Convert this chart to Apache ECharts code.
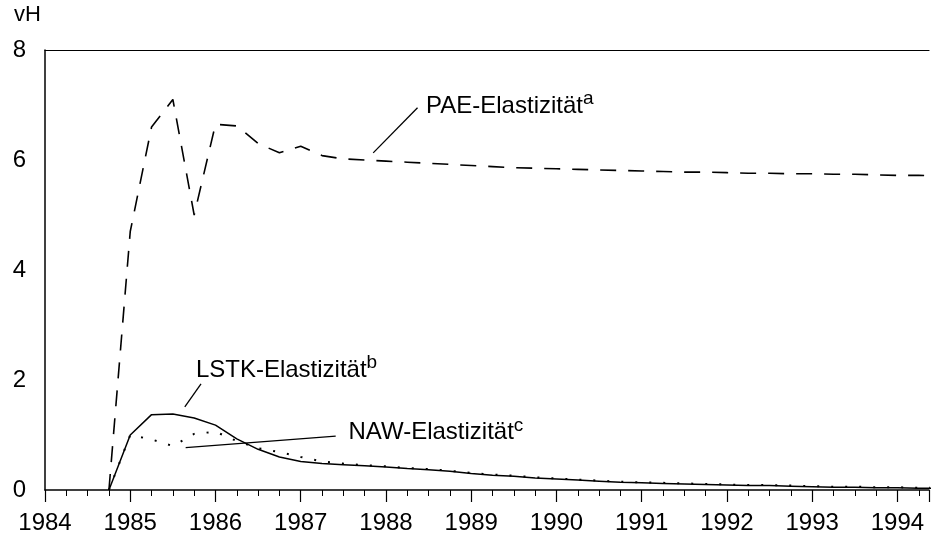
<!DOCTYPE html>
<html>
<head>
<meta charset="utf-8">
<title>Elastizitäten</title>
<script src="https://cdn.jsdelivr.net/npm/echarts@6/dist/echarts.min.js"></script>
<style>
  html,body{margin:0;padding:0;background:#fff;}
  #chart{width:932px;height:535px;}
</style>
</head>
<body>
<div id="chart"></div>
<script>
// quartale (x-werte)
const quarters=[1984.75,1985,1985.25,1985.5,1985.75,1986,1986.25,1986.5,1986.75,1987,1987.25,1987.5,1987.75,
  1988,1988.25,1988.5,1988.75,1989,1989.25,1989.5,1989.75,1990,1990.25,1990.5,1990.75,1991,1991.25,1991.5,1991.75,
  1992,1992.25,1992.5,1992.75,1993,1993.25,1993.5,1993.75,1994,1994.25,1994.5]
// PAE-Elastizität (gestrichelt)
const paeValues=[0,4.7,6.6,7.1,5.0,6.65,6.62,6.3,6.13,6.25,6.08,6.02,6.0,
  5.98,5.96,5.94,5.92,5.9,5.88,5.86,5.85,5.84,5.83,5.82,5.81,5.8,5.79,5.78,5.78,
  5.77,5.76,5.76,5.75,5.75,5.74,5.74,5.73,5.72,5.72,5.71]
// LSTK-Elastizität (durchgezogen)
const lstkValues=[0,1.0,1.37,1.38,1.31,1.18,0.93,0.74,0.6,0.52,0.48,0.46,0.44,
  0.42,0.39,0.37,0.34,0.3,0.27,0.25,0.22,0.2,0.18,0.16,0.14,0.13,0.12,0.11,0.1,
  0.09,0.08,0.08,0.07,0.06,0.05,0.05,0.04,0.04,0.03,0.03]
// NAW-Elastizität (gepunktet)
const nawValues=[0,1.0,0.92,0.8,1.02,1.06,0.89,0.76,0.69,0.6,0.52,0.48,0.45,
  0.43,0.4,0.38,0.35,0.31,0.28,0.26,0.23,0.21,0.19,0.17,0.15,0.14,0.13,0.12,0.11,
  0.1,0.09,0.09,0.08,0.07,0.06,0.06,0.05,0.05,0.04,0.04]
const yearLabels=['1984','1985','1986','1987','1988','1989','1990','1991','1992','1993','1994']
const yLabels=['0','2','4','6','8']

const FONT='"Liberation Sans", Arial, sans-serif'
const pairs=(vals)=>quarters.map((q,i)=>[q,vals[i]])

let chartInstance=echarts.init(document.getElementById('chart'))

const leader=(a,b)=>({
  silent:true,
  symbol:'none',
  label:{show:false},
  lineStyle:{color:'#000',type:'solid',width:1.3},
  data:[[{coord:a},{coord:b}]]
})

let option={
  animation:false,
  backgroundColor:'#fff',
  grid:{left:45,right:0,top:50,bottom:45},
  xAxis:[
    {
      type:'value',
      min:1984,
      max:1994.37,
      interval:1,
      axisLine:{lineStyle:{color:'#000',width:1.5}},
      axisTick:{length:12,lineStyle:{color:'#000',width:1.2}},
      minorTick:{show:true,splitNumber:4,length:6,lineStyle:{color:'#000',width:1}},
      splitLine:{show:false},
      axisLabel:{
        margin:21,
        color:'#000',
        fontSize:24,
        fontFamily:FONT,
        formatter:(v)=>{
          let s=String(Math.round(v))
          return Math.abs(v-Math.round(v))<1e-6&&yearLabels.includes(s)?s:''
        }
      }
    },
    {
      type:'value',
      position:'top',
      min:1984,
      max:1994.37,
      axisLine:{show:true,lineStyle:{color:'#000',width:1.2}},
      axisTick:{show:false},
      axisLabel:{show:false},
      splitLine:{show:false}
    }
  ],
  yAxis:{
    type:'value',
    min:0,
    max:8,
    interval:2,
    axisLine:{show:true,lineStyle:{color:'#000',width:1.5}},
    axisTick:{show:false},
    splitLine:{show:false},
    axisLabel:{
      margin:19,
      color:'#000',
      fontSize:24,
      fontFamily:FONT,
      formatter:(v)=>yLabels.includes(String(v))?String(v):''
    }
  },
  series:[
    {
      name:'PAE-Elastizität',
      type:'line',
      data:pairs(paeValues),
      showSymbol:false,
      lineStyle:{color:'#000',width:1.6,type:[16,12]},
      markLine:leader([1987.85,6.13],[1988.37,6.95])
    },
    {
      name:'LSTK-Elastizität',
      type:'line',
      data:pairs(lstkValues),
      showSymbol:false,
      lineStyle:{color:'#000',width:1.5},
      markLine:leader([1985.64,1.51],[1985.83,1.93])
    },
    {
      name:'NAW-Elastizität',
      type:'line',
      data:pairs(nawValues),
      showSymbol:false,
      lineStyle:{color:'#000',width:2,type:[2,12]},
      markLine:leader([1985.65,0.77],[1987.41,0.98])
    }
  ]
}
chartInstance.setOption(option)

// beschriftungen mit hochgestellten fußnoten
const notes=[
  {text:'PAE-Elastizität',sup:'a',at:[1988.47,6.98]},
  {text:'LSTK-Elastizität',sup:'b',at:[1985.77,2.18]},
  {text:'NAW-Elastizität',sup:'c',at:[1987.56,1.04]}
]
let graphics=notes.map(n=>{
  let p=chartInstance.convertToPixel({xAxisIndex:0,yAxisIndex:0},n.at)
  return {
    type:'text',
    x:p[0],
    y:p[1],
    silent:true,
    style:{
      text:'{m|'+n.text+'}{s|'+n.sup+'}',
      align:'left',
      verticalAlign:'middle',
      rich:{
        m:{fontSize:24,fontFamily:FONT,fill:'#000',lineHeight:34},
        s:{fontSize:19,fontFamily:FONT,fill:'#000',lineHeight:14,verticalAlign:'top'}
      }
    }
  }
})
graphics.push({
  type:'text',
  left:14,
  top:4,
  silent:true,
  style:{text:'vH',fontSize:22,fontFamily:FONT,fill:'#000'}
})
chartInstance.setOption({graphic:graphics})
</script>
</body>
</html>
